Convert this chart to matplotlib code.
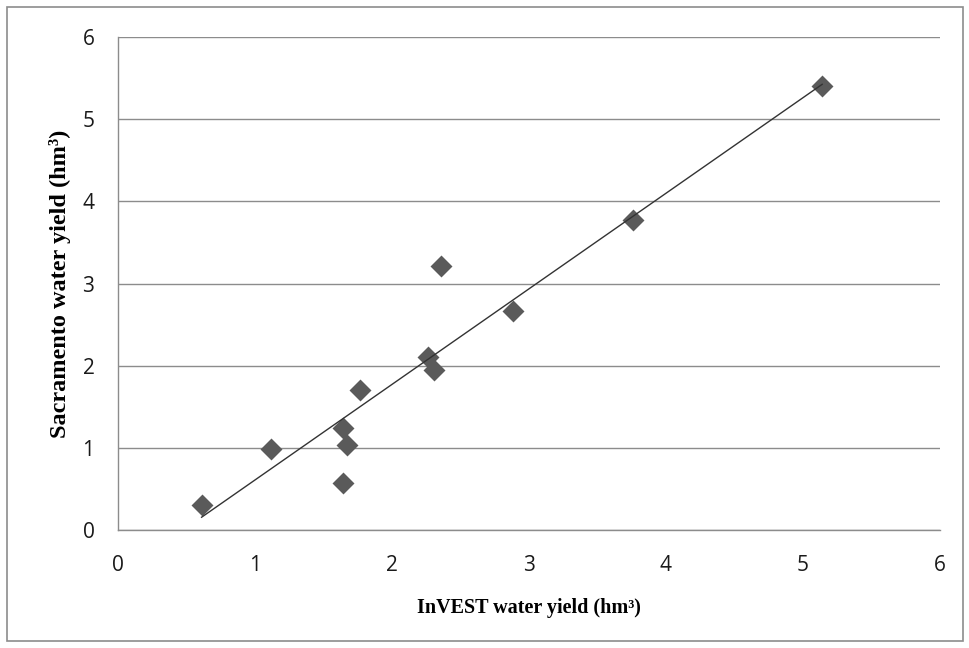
import numpy as np
import matplotlib
matplotlib.use('Agg')
import matplotlib.pyplot as plt
from matplotlib.patches import Rectangle

# InVEST vs Sacramento water yield (hm3)
invest = [0.61, 1.12, 1.64, 1.64, 1.67, 1.77, 2.26, 2.31, 2.36, 2.88, 3.76, 5.14]
sacramento = [0.31, 0.99, 0.57, 1.24, 1.04, 1.70, 2.10, 1.95, 3.21, 2.66, 3.77, 5.40]

fig = plt.figure(figsize=(9.69, 6.48), dpi=100)
ax = fig.add_axes([118 / 969, 1 - 530 / 648, (940 - 118) / 969, (530 - 37) / 648])

ax.scatter(invest, sacramento, marker='D', s=125, color='#5a5a5a', zorder=3, linewidths=0)

# linear trend line over the data range
slope, icpt = np.polyfit(invest, sacramento, 1)
xs = np.array([min(invest), max(invest)])
ax.plot(xs, slope * xs + icpt, color='#333333', lw=1.0, zorder=4)

ax.set_xlim(0, 6)
ax.set_ylim(0, 6)
ax.set_xticks(range(7))
ax.set_yticks(range(7))
ax.yaxis.grid(True, color='#8c8c8c', lw=1.0)
ax.set_axisbelow(True)
for s in ['top', 'right']:
    ax.spines[s].set_visible(False)
for s in ['left', 'bottom']:
    ax.spines[s].set_color('#8c8c8c')
    ax.spines[s].set_linewidth(1.0)
ax.tick_params(length=0, labelsize=15, labelcolor='#1a1a1a', labelfontfamily='Open Sans')
ax.tick_params(axis='x', pad=18)
ax.tick_params(axis='y', pad=17)

ax.set_xlabel('InVEST water yield (hm³)', family='Liberation Serif', weight='bold', fontsize=14.5, labelpad=16)
ax.set_ylabel('Sacramento water yield (hm³)', family='Liberation Serif', weight='bold', fontsize=17.5, labelpad=8)

fig.patches.append(Rectangle((7 / 969, 7 / 648), 956 / 969, 634 / 648, transform=fig.transFigure,
                             fill=False, edgecolor='#8c8c8c', lw=1.2))

fig.savefig('out.png', dpi=100)
plt.close()
